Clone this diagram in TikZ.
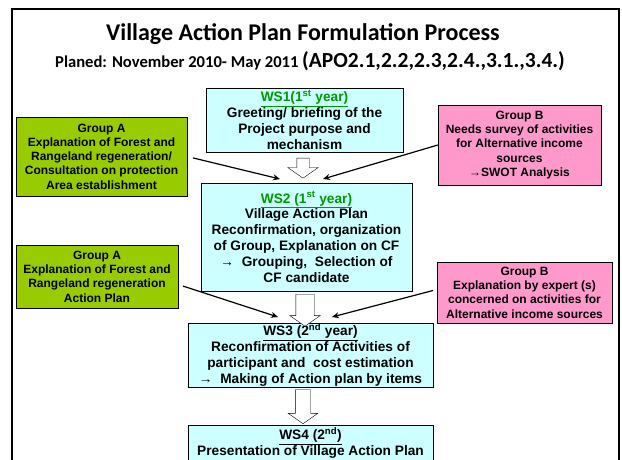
\documentclass[tikz,border=0pt]{standalone}
\usepackage{fontspec}
\setmainfont{Liberation Sans}
\newfontfamily\titlefont{Carlito}
\usetikzlibrary{arrows.meta}
\usetikzlibrary{shapes.arrows}

\definecolor{wsfill}{HTML}{CCFFFF}
\definecolor{groupA}{HTML}{99CC00}
\definecolor{groupB}{HTML}{FF99CC}
\definecolor{wsgreen}{HTML}{009900}

\begin{document}
\begin{tikzpicture}[x=1pt, y=-1pt, >=Stealth,
    ws/.style = {draw, fill=wsfill, align=center, inner sep=0pt,
        font=\fontsize{13.7}{15.8}\selectfont\bfseries},
    grpA/.style = {draw, fill=groupA, align=center, inner sep=0pt,
        font=\fontsize{12}{14.3}\selectfont\bfseries},
    grpB/.style = {draw, fill=groupB, align=center, inner sep=0pt,
        font=\fontsize{12}{14.3}\selectfont\bfseries},
    conn/.style = {-{Stealth[length=7pt,width=6pt]}, line width=1.2pt},
    hollow/.style = {draw, fill=white, single arrow, rotate=-90,
        single arrow tip angle=110, inner xsep=0pt}]
    \useasboundingbox (0,0) rectangle (622,459);

    % frame
    \draw[line width=1.8pt] (12,460) -- (12,9) -- (619,9) -- (619,460);

    % title
    \node[font=\titlefont\bfseries\fontsize{24}{28}\selectfont] (title) at (303,34)
        {Village Action Plan Formulation Process};
    \node[font=\titlefont\bfseries\fontsize{16.6}{20}\selectfont] (sub) at (310,61)
        {Planed: November 2010- May 2011 {\fontsize{21.5}{24}\selectfont(APO2.1,2.2,2.3,2.4.,3.1.,3.4.)}};

    % workshops
    \node[ws, minimum width=197, minimum height=64] (ws1) at (304.5,120)
        {\textcolor{wsgreen}{\underline{WS1(1\textsuperscript{st} year)}}\\
         Greeting/ briefing of the\\ Project purpose and\\ mechanism};
    \node[ws, minimum width=211, minimum height=108] (ws2) at (306.5,237)
        {\textcolor{wsgreen}{\underline{WS2 (1\textsuperscript{st} year)}}\\
         Village Action Plan\\ Reconfirmation, organization\\
         of Group, Explanation on CF\\ →\ \ Grouping,\ \ Selection of\\ CF candidate};
    \node[ws, minimum width=245, minimum height=64] (ws3) at (310.5,355)
        {\underline{WS3 (2\textsuperscript{nd} year)}\\
         Reconfirmation of Activities of\\ participant and\ \ cost estimation\\
         →\ \ Making of Action plan by items};
    \node[ws, minimum width=245, minimum height=36] (ws4) at (310.5,443)
        {\underline{WS4 (2\textsuperscript{nd})}\\ Presentation of Village Action Plan};

    % groups
    \node[grpA, minimum width=171, minimum height=79] (ga1) at (101.5,156.5)
        {Group A\\ Explanation of Forest and\\ Rangeland regeneration/\\
         Consultation on protection\\ Area establishment};
    \node[grpB, minimum width=163, minimum height=80] (gb1) at (519.5,145)
        {Group B\\ Needs survey of activities\\ for Alternative income\\
         sources\\ →SWOT Analysis};
    \node[grpA, minimum width=162, minimum height=63] (ga2) at (97,276.5)
        {Group A\\ Explanation of Forest and\\ Rangeland regeneration\\ Action Plan};
    \node[grpB, minimum width=175, minimum height=61] (gb2) at (524.5,292.5)
        {Group B\\ Explanation by expert (s)\\ concerned on activities for\\
         Alternative income sources};

    % hollow arrows
    \node[hollow, minimum height=20, inner ysep=6, single arrow head extend=9] (h1) at (303,166) {};
    \node[hollow, minimum height=32, inner ysep=9, single arrow head extend=6] (h2) at (305,307) {};
    \node[hollow, minimum height=34, inner ysep=7.5, single arrow head extend=7] (h3) at (303,404) {};

    % connectors
    \coordinate (a1end) at (280,179);
    \coordinate (b1end) at (323,179);
    \coordinate (a2end) at (278,317);
    \coordinate (b2end) at (332,317);
    \draw[conn, shorten <=6pt] (ga1.east) -- (a1end);
    \draw[conn] (gb1.west) -- (b1end);
    \draw[conn, shorten <=5pt] ([yshift=-8pt]ga2.east) -- (a2end);
    \draw[conn, shorten <=4pt] ([yshift=3pt]gb2.west) -- (b2end);

\end{tikzpicture}
\end{document}
